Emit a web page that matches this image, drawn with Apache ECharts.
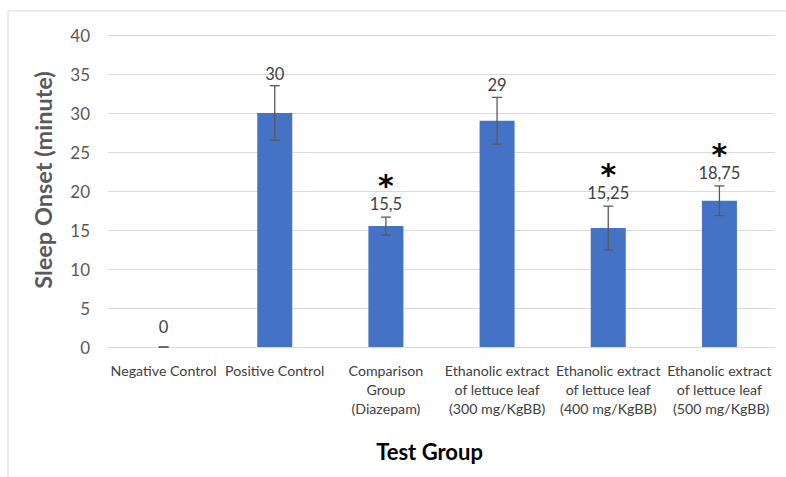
<!DOCTYPE html>
<html>
<head>
<meta charset="utf-8">
<script src="https://cdn.jsdelivr.net/npm/echarts@6/dist/echarts.min.js"></script>
<style>
  html, body { margin: 0; padding: 0; background: #fff; }
  #chart { width: 786px; height: 477px; }
</style>
</head>
<body>
<div id="chart"></div>
<script>
// data
const categories = [
  'Negative Control',
  'Positive Control',
  'Comparison\nGroup\n(Diazepam)',
  'Ethanolic extract\nof lettuce leaf\n(300 mg/KgBB)',
  'Ethanolic extract\nof lettuce leaf\n(400 mg/KgBB)',
  'Ethanolic extract\nof lettuce leaf\n (500 mg/KgBB)'
];
const sleepOnset = [0, 30, 15.5, 29, 15.25, 18.75];
const errorSD = [0, 3.5, 1.15, 3, 2.8, 1.9];
const significant = [false, false, true, false, true, true];
const yTicks = [0, 5, 10, 15, 20, 25, 30, 35, 40];

function fmt(v) {
  return String(v).replace('.', ',');
}

const errData = sleepOnset.map((v, i) => [i, v, errorSD[i], significant[i] ? 1 : 0]);

const valueFont = '16.5px Lato, "Open Sans", sans-serif';

function renderError(params, api) {
  const i = api.value(0);
  const mean = api.value(1);
  const sd = api.value(2);
  const star = api.value(3);
  const top = api.coord([i, mean + sd]);
  const bot = api.coord([i, mean - sd]);
  const cap = 5;
  const lineStyle = { stroke: '#595959', lineWidth: 1.3 };
  const children = [
    { type: 'line', shape: { x1: top[0], y1: top[1], x2: bot[0], y2: bot[1] }, style: lineStyle },
    { type: 'line', shape: { x1: top[0] - cap, y1: top[1], x2: top[0] + cap, y2: top[1] }, style: lineStyle },
    { type: 'line', shape: { x1: bot[0] - cap, y1: bot[1], x2: bot[0] + cap, y2: bot[1] }, style: lineStyle }
  ];
  if (star) {
    // asterisk and value label in one text block
    children.push({
      type: 'text',
      x: top[0], y: top[1] - 5.5,
      style: {
        text: '{s|*}\n{v|' + fmt(mean) + '}',
        align: 'center', verticalAlign: 'bottom',
        rich: {
          s: { font: 'bold 30px "DejaVu Sans", sans-serif', fill: '#000', lineHeight: 22, align: 'center' },
          v: { font: valueFont, fill: '#404040', lineHeight: 15, align: 'center' }
        }
      }
    });
  } else {
    children.push({
      type: 'text',
      x: top[0], y: top[1] - (mean === 0 ? 20 : 12),
      style: {
        text: fmt(mean), fill: '#404040', font: valueFont,
        align: 'center', verticalAlign: 'middle'
      }
    });
  }
  return { type: 'group', children: children };
}

const chart = echarts.init(document.getElementById('chart'), null, { renderer: 'svg' });

chart.setOption({
  animation: false,
  backgroundColor: '#fff',
  graphic: [{
    type: 'rect',
    shape: { x: 8, y: 11, width: 800, height: 500 },
    style: { fill: 'none', stroke: '#d9d9d9', lineWidth: 1 },
    silent: true
  }],
  grid: { left: 108, right: 11, top: 35, bottom: 130 },
  xAxis: {
    type: 'category',
    data: categories,
    name: 'Test Group',
    nameLocation: 'middle',
    nameGap: 93,
    nameTextStyle: {
      fontFamily: 'Lato, "Open Sans", sans-serif', fontWeight: 'bold', fontSize: 22, color: '#000',
      padding: [0, 24, 0, 0]
    },
    axisLine: { lineStyle: { color: '#d9d9d9' } },
    axisTick: { show: false },
    axisLabel: {
      interval: 0,
      margin: 14,
      lineHeight: 19,
      fontFamily: 'Lato, "Open Sans", sans-serif',
      fontSize: 14.2,
      color: '#404040'
    }
  },
  yAxis: {
    type: 'value',
    min: 0, max: 40, interval: 5,
    name: 'Sleep Onset (minute)',
    nameLocation: 'middle',
    nameGap: 53,
    nameTextStyle: {
      fontFamily: 'Lato, "Open Sans", sans-serif', fontWeight: 'bold', fontSize: 23.5, color: '#595959',
      padding: [0, 0, 0, 22]
    },
    axisLine: { show: false },
    axisTick: { show: false },
    splitLine: { lineStyle: { color: '#d9d9d9', width: 1 } },
    axisLabel: {
      margin: 18,
      fontFamily: 'Lato, "Open Sans", sans-serif',
      fontSize: 17,
      color: '#595959',
      formatter: v => (yTicks.indexOf(v) >= 0 ? String(v) : '')
    }
  },
  series: [
    {
      type: 'bar',
      data: sleepOnset,
      barWidth: 35,
      itemStyle: { color: '#4472c4' }
    },
    {
      type: 'custom',
      data: errData,
      renderItem: renderError,
      z: 10
    }
  ]
});
</script>
</body>
</html>
